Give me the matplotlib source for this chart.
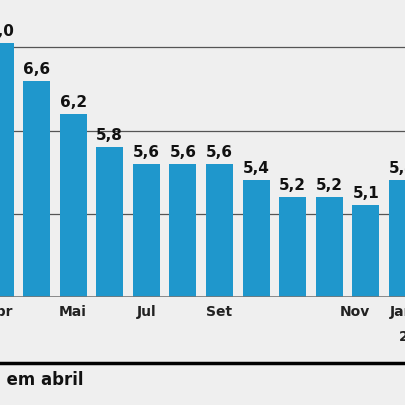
import matplotlib
matplotlib.use("Agg")
import matplotlib.pyplot as plt

values = [7.05, 6.6, 6.2, 5.8, 5.6, 5.6, 5.6, 5.4, 5.2, 5.2, 5.1, 5.4]
labels = ["7,0", "6,6", "6,2", "5,8", "5,6", "5,6", "5,6", "5,4", "5,2", "5,2", "5,1", "5,4"]
tick_pos = [0, 2, 4, 6, 9.7, 11]
tick_txt = ["Abr", "Mai", "Jul", "Set", "Nov", "Jan"]

BG = "#efefef"
BLUE = "#1f97cc"

fig = plt.figure(figsize=(4.06, 4.06), dpi=100, facecolor=BG)
ax = fig.add_axes([0, 108 / 406, 1, 298 / 406], facecolor=BG)
ax.set_xlim(0.42, 11.1)
ax.set_ylim(4.0, 7.58)
for g in (5, 6, 7):
    ax.axhline(g, color="#555555", lw=0.9, zorder=0)
x = list(range(len(values)))
ax.bar(x, [v - 4.0 for v in values], bottom=4.0, width=0.74, color=BLUE, zorder=2)
for xi, v, t in zip(x, values, labels):
    ax.text(xi, v + 0.06, t, ha="center", va="bottom", fontsize=11,
            fontweight="bold", color="#111111")
ax.axhline(4.0, color="#777777", lw=1.2, zorder=3)
for s in ax.spines.values():
    s.set_visible(False)
ax.set_yticks([])
ax.set_xticks(tick_pos)
ax.set_xticklabels(tick_txt, fontsize=10, fontweight="bold", color="#222222")
ax.tick_params(axis="x", length=0, pad=5)

fig.text(399 / 406, 1 - 337 / 406, "2024", fontsize=10, fontweight="bold",
         color="#222222", ha="left", va="center")
fig.add_artist(plt.Line2D([0, 1], [1 - 364 / 406] * 2, color="black", lw=2.5))
fig.text(84 / 406, 1 - 380 / 406, "Taxa de desocupação em abril", fontsize=12,
         fontweight="bold", color="#111111", ha="right", va="center")
fig.savefig("out.png", dpi=100, facecolor=BG)
